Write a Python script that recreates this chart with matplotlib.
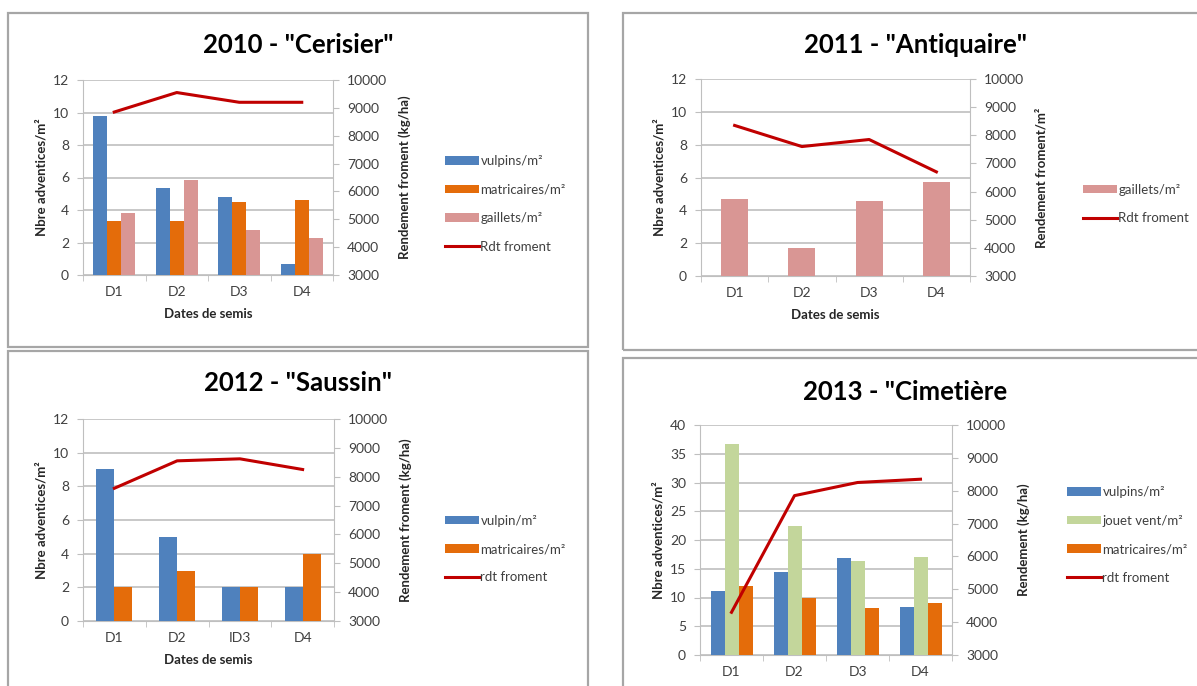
import numpy as np
import matplotlib
matplotlib.use("Agg")
import matplotlib.pyplot as plt
from matplotlib.patches import Rectangle, Patch
from matplotlib.lines import Line2D

plt.rcParams['font.family'] = ['Lato', 'DejaVu Sans']

# --- data -------------------------------------------------------------
dates = ["D1", "D2", "D3", "D4"]
dates_2012 = ["D1", "D2", "ID3", "D4"]

vulpins_2010 = [9.8, 5.35, 4.8, 0.65]
matric_2010 = [3.3, 3.3, 4.5, 4.6]
gaillets_2010 = [3.8, 5.85, 2.8, 2.3]
rdt_2010 = [8850, 9550, 9200, 9200]

gaillets_2011 = [4.7, 1.7, 4.55, 5.7]
rdt_2011 = [8350, 7600, 7850, 6700]

vulpin_2012 = [9.05, 5.0, 2.0, 2.0]
matric_2012 = [2.0, 3.0, 2.0, 4.0]
rdt_2012 = [7600, 8550, 8620, 8250]

vulpins_2013 = [11.1, 14.4, 16.8, 8.3]
jouet_2013 = [36.7, 22.5, 16.3, 17.0]
matric_2013 = [12.0, 10.0, 8.1, 9.0]
rdt_2013 = [4300, 7850, 8250, 8350]

BLUE = "#4f81bd"
ORANGE = "#e46c0a"
PINK = "#d99694"
GREEN = "#c3d69b"
RED = "#c00000"
GRID = "#bfbfbf"
TXT = "#404040"

W, H = 1197, 686
fig = plt.figure(figsize=(W / 100, H / 100), dpi=100)


def px_rect(l, t, r, b):
    return [l / W, 1 - b / H, (r - l) / W, (b - t) / H]


# panel frames
for (l, t, r, b) in [(8, 13, 588, 347), (623, 13, 1205, 350),
                     (8, 351, 588, 700), (623, 358, 1205, 700)]:
    fig.patches.append(Rectangle((l / W, 1 - b / H), (r - l) / W, (b - t) / H,
                                 transform=fig.transFigure, fill=False,
                                 edgecolor="#a6a6a6", lw=1.6))


def panel(rect, title, title_xy, cats, series, rdt, ymax, ystep, rlabel,
          leg_x, leg_y, rdt_name, xlabel=True):
    ax = fig.add_axes(px_rect(*rect))
    n = len(series)
    w = 1 / (n + 1.5)
    x = np.arange(len(cats))
    handles = []
    for i, (name, vals, col) in enumerate(series):
        ax.bar(x + (i - (n - 1) / 2) * w, vals, w, color=col, zorder=3)
        handles.append(Patch(facecolor=col, label=name))
    ax.set_xlim(-0.5, len(cats) - 0.5)
    ax.set_ylim(0, ymax)
    ax.set_yticks(np.arange(0, ymax + 0.1, ystep))
    ax.yaxis.grid(True, color=GRID, lw=1.2, zorder=0)
    ax.set_xticks(x)
    ax.set_xticklabels(cats)
    ax.set_xticks(np.arange(-0.5, len(cats)), minor=True)
    ax.tick_params(axis="x", which="major", length=0, pad=8, labelsize=10, labelcolor=TXT)
    ax.tick_params(axis="x", which="minor", length=4, color=GRID)
    ax.tick_params(axis="y", length=4, color=GRID, labelsize=10, labelcolor=TXT, pad=6)
    for s in ["top", "right"]:
        ax.spines[s].set_visible(False)
    for s in ["left", "bottom"]:
        ax.spines[s].set_color(GRID)
    ax.set_ylabel("Nbre adventices/m²", fontsize=9.5, fontweight="bold", color="#262626")
    if xlabel:
        ax.set_xlabel("Dates de semis", fontsize=9.5, fontweight="bold", color="#262626", labelpad=7)

    ax2 = ax.twinx()
    ax2.plot(x, rdt, color=RED, lw=2.2, zorder=4)
    ax2.set_ylim(3000, 10000)
    ax2.set_yticks(np.arange(3000, 10001, 1000))
    ax2.tick_params(axis="y", length=4, color=GRID, labelsize=10, labelcolor=TXT, pad=6)
    for s in ["top", "left", "bottom"]:
        ax2.spines[s].set_visible(False)
    ax2.spines["right"].set_color(GRID)
    ax2.set_ylabel(rlabel, fontsize=9.5, fontweight="bold", color="#262626", labelpad=8)
    handles.append(Line2D([], [], color=RED, lw=2.2, label=rdt_name))

    fig.text(title_xy[0] / W, 1 - title_xy[1] / H, title, ha="center", va="center",
             fontsize=18.5, fontweight="bold")
    ax.legend(handles=handles, loc="center left", frameon=False,
              bbox_to_anchor=(leg_x / W, 1 - leg_y / H), bbox_transform=fig.transFigure,
              fontsize=9.5, labelcolor=TXT, handlelength=2.6, handleheight=0.6,
              handletextpad=0.1, labelspacing=1.25)


panel((83, 80, 333, 275), '2010 - "Cerisier"', (298, 45), dates,
      [("vulpins/m²", vulpins_2010, BLUE), ("matricaires/m²", matric_2010, ORANGE),
       ("gaillets/m²", gaillets_2010, PINK)],
      rdt_2010, 12, 2, "Rendement froment (kg/ha)", 433, 204, "Rdt froment")

panel((701, 79, 970, 276), '2011 - "Antiquaire"', (916, 45), dates,
      [("gaillets/m²", gaillets_2011, PINK)],
      rdt_2011, 12, 2, "Rendement froment/m²", 1071, 204, "Rdt froment")

panel((83, 419, 334, 621), '2012 - "Saussin"', (298, 383), dates_2012,
      [("vulpin/m²", vulpin_2012, BLUE), ("matricaires/m²", matric_2012, ORANGE)],
      rdt_2012, 12, 2, "Rendement froment (kg/ha)", 433, 549, "rdt froment")

panel((700, 425, 952, 655), '2013 - "Cimetière', (905, 392), dates,
      [("vulpins/m²", vulpins_2013, BLUE), ("jouet vent/m²", jouet_2013, GREEN),
       ("matricaires/m²", matric_2013, ORANGE)],
      rdt_2013, 40, 5, "Rendement (kg/ha)", 1055, 535, "rdt froment", xlabel=False)

fig.savefig("out.png", dpi=100)
